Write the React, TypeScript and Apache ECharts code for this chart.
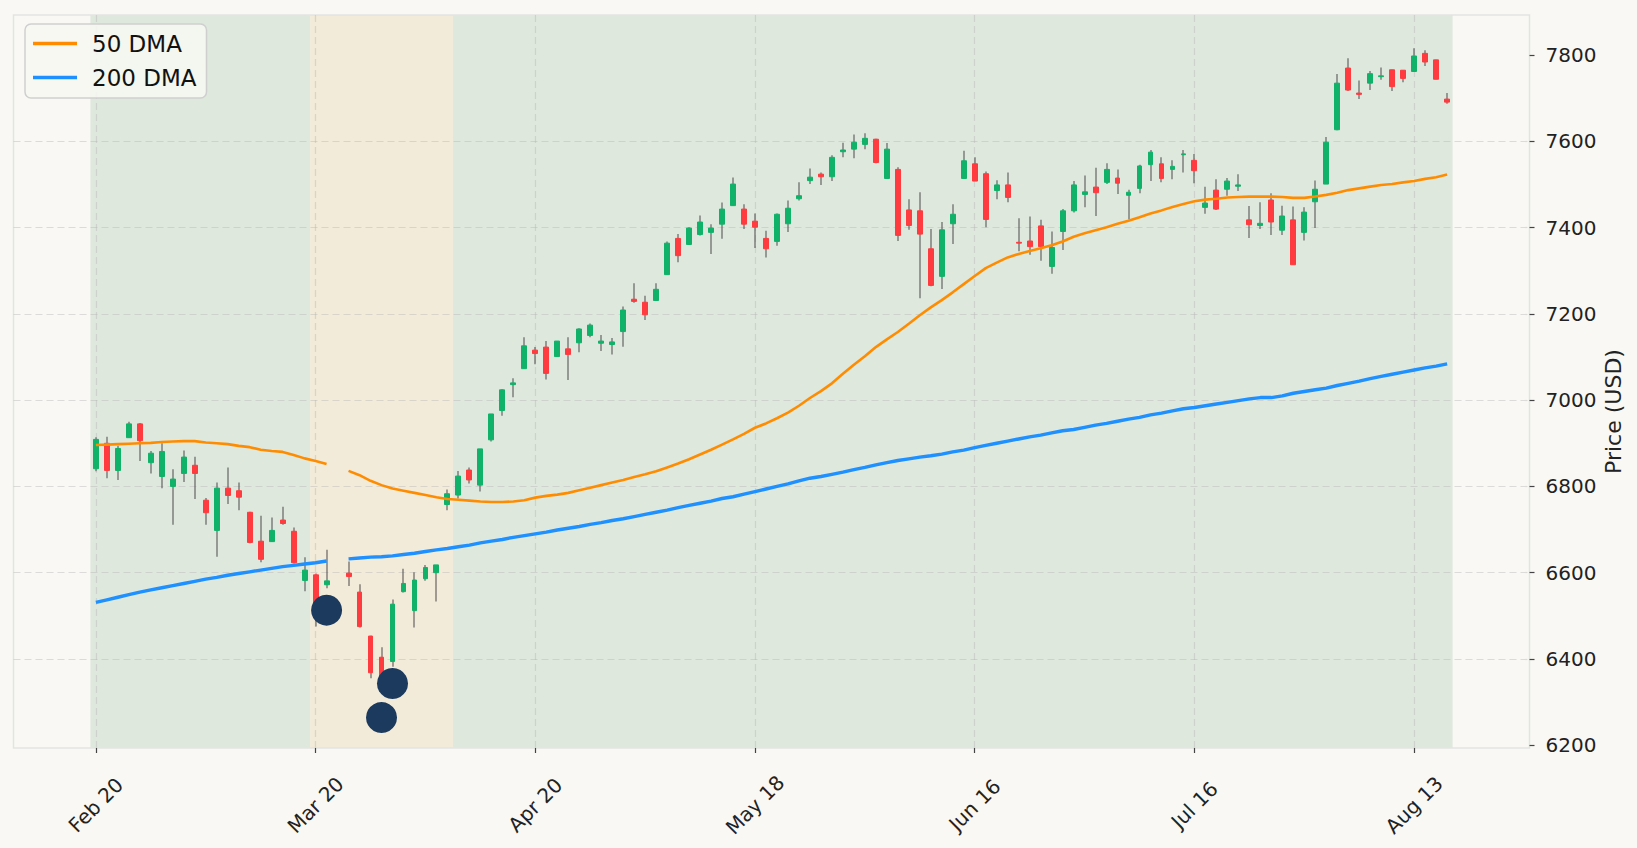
import { useEffect, useRef } from 'react';
import * as echarts from 'echarts';

const FONT = 'DejaVu Sans';
const PAD = 7; // empty slots on each side, the axes run a little past the data

// one tick label every 20 trading days
const tickLabels = ['Feb 20', 'Mar 20', 'Apr 20', 'May 18', 'Jun 16', 'Jul 16', 'Aug 13'];
const tickStep = 20;
const priceTicks = [6200, 6400, 6600, 6800, 7000, 7200, 7400, 7600, 7800];

// daily OHLC, index 22 has no data
const opens = [
  6841, 6900, 6837, 6913, 6945, 6855, 6823, 6800, 6830, 6849,
  6768, 6698, 6796, 6790, 6740, 6673, 6672, 6722, 6696, 6582,
  6595, 6572, null, 6599, 6555, 6453, 6404, 6394, 6556, 6512,
  6586, 6600, 6758, 6780, 6838, 6803, 6908, 6976, 7036, 7073,
  7116, 7123, 7101, 7119, 7133, 7150, 7132, 7129, 7159, 7234,
  7227, 7231, 7291, 7375, 7361, 7384, 7389, 7408, 7451, 7443,
  7415, 7375, 7368, 7409, 7467, 7509, 7524, 7518, 7576, 7582,
  7593, 7605, 7514, 7535, 7441, 7439, 7351, 7287, 7409, 7514,
  7548, 7525, 7486, 7499, 7366, 7369, 7404, 7310, 7391, 7439,
  7477, 7494, 7505, 7515, 7475, 7491, 7546, 7548, 7535, 7569,
  7556, 7447, 7487, 7489, 7496, 7418, 7405, 7464, 7394, 7418,
  7389, 7460, 7501, 7627, 7770, 7712, 7735, 7750, 7766, 7765,
  7762, 7804, 7789, 7698,
];
const highs = [
  6914, 6915, 6894, 6950, 6947, 6882, 6900, 6840, 6883, 6869,
  6773, 6809, 6844, 6809, 6741, 6732, 6728, 6753, 6705, 6636,
  6598, 6653, null, 6626, 6573, 6454, 6427, 6538, 6609, 6601,
  6618, 6618, 6793, 6836, 6844, 6887, 6968, 7025, 7051, 7146,
  7123, 7137, 7137, 7146, 7167, 7178, 7151, 7144, 7217, 7271,
  7242, 7271, 7368, 7385, 7401, 7428, 7408, 7458, 7516, 7454,
  7433, 7393, 7433, 7463, 7505, 7537, 7528, 7568, 7597, 7616,
  7619, 7606, 7596, 7540, 7466, 7482, 7397, 7413, 7454, 7578,
  7563, 7530, 7510, 7528, 7422, 7426, 7418, 7391, 7443, 7508,
  7521, 7539, 7549, 7535, 7488, 7546, 7580, 7563, 7556, 7580,
  7571, 7495, 7512, 7515, 7524, 7450, 7459, 7480, 7451, 7449,
  7447, 7509, 7610, 7756, 7793, 7741, 7763, 7771, 7766, 7765,
  7816, 7811, 7789, 7712,
];
const lows = [
  6835, 6819, 6815, 6913, 6859, 6830, 6796, 6711, 6810, 6771,
  6711, 6637, 6759, 6745, 6668, 6624, 6671, 6711, 6621, 6557,
  6475, 6564, null, 6569, 6473, 6355, 6345, 6382, 6554, 6473,
  6581, 6533, 6745, 6772, 6807, 6788, 6904, 6964, 7007, 7073,
  7083, 7048, 7101, 7047, 7111, 7146, 7114, 7106, 7124, 7226,
  7186, 7231, 7291, 7320, 7360, 7382, 7339, 7374, 7451, 7397,
  7353, 7331, 7358, 7390, 7463, 7501, 7499, 7508, 7563, 7561,
  7582, 7549, 7514, 7369, 7395, 7236, 7264, 7258, 7362, 7514,
  7508, 7401, 7466, 7459, 7345, 7337, 7323, 7293, 7348, 7435,
  7447, 7427, 7501, 7478, 7419, 7480, 7508, 7505, 7512, 7528,
  7503, 7432, 7441, 7474, 7485, 7376, 7397, 7383, 7383, 7314,
  7370, 7399, 7501, 7626, 7717, 7698, 7719, 7743, 7717, 7737,
  7762, 7775, 7744, 7687,
];
const closes = [
  6909, 6837, 6888, 6945, 6906, 6877, 6881, 6817, 6868, 6830,
  6739, 6796, 6779, 6775, 6670, 6631, 6698, 6714, 6623, 6606,
  6500, 6581, null, 6591, 6475, 6368, 6358, 6527, 6575, 6583,
  6612, 6618, 6783, 6824, 6815, 6887, 6968, 7024, 7040, 7126,
  7108, 7062, 7137, 7106, 7165, 7174, 7137, 7135, 7209, 7229,
  7198, 7257, 7364, 7335, 7399, 7413, 7399, 7443, 7501, 7408,
  7401, 7351, 7431, 7445, 7474, 7517, 7518, 7563, 7580, 7598,
  7607, 7551, 7582, 7382, 7405, 7385, 7266, 7395, 7431, 7555,
  7508, 7419, 7499, 7470, 7364, 7356, 7356, 7354, 7439, 7499,
  7483, 7481, 7535, 7503, 7482, 7543, 7575, 7514, 7542, 7571,
  7532, 7457, 7443, 7508, 7499, 7407, 7410, 7413, 7427, 7314,
  7436, 7489, 7598, 7735, 7719, 7709, 7757, 7752, 7727, 7746,
  7798, 7784, 7744, 7691,
];

const dma50 = [
  6896, 6897, 6898, 6899, 6900, 6901, 6903, 6904, 6905, 6905,
  6902, 6900, 6898, 6894, 6891, 6885, 6882, 6880, 6873, 6865,
  6859, 6852, null, 6836, 6826, 6813, 6803, 6795, 6790, 6785,
  6780, 6775, 6771, 6769, 6767, 6765, 6764, 6764, 6765, 6768,
  6774, 6778, 6781, 6785, 6791, 6797, 6803, 6809, 6815, 6822,
  6828, 6835, 6844, 6853, 6863, 6874, 6885, 6897, 6909, 6922,
  6936, 6946, 6958, 6971, 6987, 7005, 7021, 7039, 7061, 7082,
  7102, 7123, 7141, 7158, 7177, 7197, 7215, 7232, 7250, 7269,
  7288, 7306, 7319, 7331, 7339, 7346, 7352, 7359, 7368, 7379,
  7387, 7394, 7401, 7409, 7416, 7424, 7433, 7440, 7448, 7455,
  7461, 7465, 7467, 7470, 7471, 7472, 7472, 7472, 7471, 7469,
  7469, 7472, 7476, 7481, 7487, 7491, 7495, 7499, 7501, 7505,
  7508, 7513, 7517, 7523,
];
const dma200 = [
  6531, 6537, 6543, 6549, 6555, 6560, 6565, 6570, 6575, 6580,
  6585, 6589, 6594, 6598, 6602, 6606, 6610, 6614, 6617, 6620,
  6623, 6627, null, 6632, 6634, 6636, 6637, 6639, 6642, 6645,
  6649, 6653, 6656, 6660, 6664, 6669, 6673, 6677, 6682, 6686,
  6690, 6694, 6699, 6703, 6707, 6712, 6716, 6721, 6725, 6730,
  6735, 6740, 6745, 6751, 6756, 6761, 6766, 6772, 6776, 6782,
  6788, 6794, 6800, 6806, 6813, 6819, 6823, 6828, 6833, 6839,
  6844, 6850, 6855, 6860, 6864, 6868, 6871, 6875, 6880, 6884,
  6890, 6895, 6900, 6905, 6910, 6915, 6919, 6924, 6929, 6932,
  6937, 6942, 6946, 6951, 6956, 6960, 6966, 6970, 6975, 6980,
  6983, 6987, 6991, 6995, 6999, 7003, 7006, 7006, 7010, 7016,
  7020, 7024, 7028, 7034, 7039, 7044, 7050, 7055, 7060, 7065,
  7070, 7075, 7079, 7084,
];

// signal dots
const signalIdx = [21, 26, 27];
const signalPrice = [6513, 6264, 6343];

// background regimes (inclusive trading-day ranges)
const regimeStart = [0, 20, 33];
const regimeEnd = [19, 32, 123];
const regimeKind = [0, 1, 0];
const regimeFill = ['#dee8dd', '#f2ebd9'];

const BG = '#f9f8f4';
const UP = '#10b26a';
const DOWN = '#ff3b3f';
const WICK = '#4a4a4a';

const App = () => {
  const chartRef = useRef<HTMLDivElement>(null);

  useEffect(() => {
    document.body.style.margin = '0';
    document.body.style.background = BG;
    if (!chartRef.current) return;
    const chart = echarts.init(chartRef.current, null, { renderer: 'svg' });

    const n = opens.length;
    const total = n + 2 * PAD;
    const categories = Array.from({ length: total }, (_, k) => String(k - PAD));
    const padArr = (arr: (number | null)[]) => [
      ...Array(PAD).fill('-'),
      ...arr.map((v) => (v == null ? '-' : v)),
      ...Array(PAD).fill('-'),
    ];
    const isTick = (k: number) => {
      const i = k - PAD;
      return i >= 0 && i < n && i % tickStep === 0;
    };

    const empty = ['-', '-', '-', '-'];
    const bodies: any[] = [];
    const wicks: any[] = [];
    for (let k = 0; k < total; k++) {
      const i = k - PAD;
      if (i < 0 || i >= n || opens[i] == null) {
        bodies.push(empty);
        wicks.push(empty);
        continue;
      }
      const o = opens[i] as number;
      const c = closes[i] as number;
      bodies.push([o, c, Math.min(o, c), Math.max(o, c)]);
      wicks.push([lows[i], highs[i], lows[i], highs[i]]);
    }

    const regimes = regimeStart.map((s, j) => [s + PAD, regimeEnd[j] + PAD, 7000, regimeKind[j]]);

    const gridLine = { color: 'rgba(185,185,185,0.45)', width: 1.2, type: [7, 4] };

    const option = {
      animation: false,
      backgroundColor: BG,
      grid: {
        left: 13.5,
        right: 107.5,
        top: 15,
        bottom: 100,
        containLabel: false,
        outerBoundsMode: 'none',
        show: true,
        backgroundColor: 'transparent',
        borderColor: '#e3e3e3',
        borderWidth: 1.5,
      },
      legend: {
        data: ['50 DMA', '200 DMA'],
        orient: 'vertical',
        left: 25,
        top: 24,
        icon: 'rect',
        itemWidth: 44,
        itemHeight: 3.5,
        itemGap: 11,
        padding: [8, 10, 9, 8],
        backgroundColor: 'rgba(247,247,243,0.88)',
        borderColor: '#cfcfcf',
        borderWidth: 1.5,
        borderRadius: 6,
        selectedMode: false,
        textStyle: { fontFamily: FONT, fontSize: 23, color: '#111', padding: [0, 0, 0, 10] },
      },
      xAxis: {
        type: 'category',
        data: categories,
        boundaryGap: true,
        axisLine: { show: false },
        axisTick: {
          show: true,
          alignWithLabel: true,
          interval: (k: number) => isTick(k),
          length: 5,
          lineStyle: { color: '#444', width: 1.2 },
        },
        axisLabel: {
          interval: (k: number) => isTick(k),
          formatter: (v: string) => tickLabels[Number(v) / tickStep] ?? '',
          rotate: 45,
          align: 'center',
          verticalAlign: 'middle',
          margin: 57,
          fontFamily: FONT,
          fontSize: 20,
          color: '#222',
        },
        splitLine: {
          show: true,
          alignWithLabel: true,
          interval: (k: number) => isTick(k),
          lineStyle: gridLine,
        },
      },
      yAxis: {
        type: 'value',
        position: 'right',
        min: 6193.5,
        max: 7893,
        minInterval: 200,
        maxInterval: 200,
        splitNumber: 8,
        scale: true,
        name: 'Price (USD)',
        nameLocation: 'middle',
        nameGap: 73,
        nameRotate: 90,
        nameMoveOverlap: false,
        nameTextStyle: { fontFamily: FONT, fontSize: 22, color: '#222', padding: [0, 60, 0, 0] },
        axisLine: { show: false },
        axisTick: {
          show: true,
          length: 5,
          customValues: priceTicks,
          lineStyle: { color: '#444', width: 1.2 },
        },
        axisLabel: {
          customValues: priceTicks,
          formatter: (v: number) => String(v),
          margin: 16,
          fontFamily: FONT,
          fontSize: 20,
          color: '#222',
        },
        splitLine: { show: true, showMinLine: false, showMaxLine: false, lineStyle: gridLine },
      },
      series: [
        {
          type: 'custom',
          name: 'regime',
          silent: true,
          z: -1,
          encode: { x: [0, 1], y: 2 },
          data: regimes,
          renderItem: (params: any, api: any) => {
            const a = api.coord([api.value(0), api.value(2)]);
            const b = api.coord([api.value(1), api.value(2)]);
            const band = api.size([1, 0])[0];
            const cs = params.coordSys;
            return {
              type: 'rect',
              shape: { x: a[0] - band / 2, y: cs.y, width: b[0] - a[0] + band, height: cs.height },
              style: { fill: regimeFill[api.value(3)] },
            };
          },
        },
        {
          type: 'candlestick',
          name: 'range',
          silent: true,
          barWidth: 1.5,
          data: wicks,
          itemStyle: { color: WICK, color0: WICK, borderColor: WICK, borderColor0: WICK, borderWidth: 0 },
          z: 3,
        },
        {
          type: 'candlestick',
          name: 'OHLC',
          silent: true,
          barWidth: 5.4,
          data: bodies,
          itemStyle: { color: UP, color0: DOWN, borderColor: UP, borderColor0: DOWN, borderWidth: 1 },
          z: 4,
        },
        {
          type: 'line',
          name: '50 DMA',
          data: padArr(dma50),
          showSymbol: false,
          color: '#ff8c00',
          lineStyle: { color: '#ff8c00', width: 2.6 },
          z: 5,
        },
        {
          type: 'line',
          name: '200 DMA',
          data: padArr(dma200),
          showSymbol: false,
          color: '#1e90ff',
          lineStyle: { color: '#1e90ff', width: 3.4 },
          z: 5,
        },
        {
          type: 'scatter',
          name: 'signals',
          silent: true,
          symbolSize: 31,
          data: signalIdx.map((i, j) => [i + PAD, signalPrice[j]]),
          itemStyle: { color: '#1b3a5e', opacity: 1 },
          z: 6,
        },
      ],
    };

    chart.setOption(option as any);
    return () => {
      chart.dispose();
    };
  }, []);

  return <div ref={chartRef} style={{ width: '1637px', height: '848px', background: BG }} />;
};

export default App;
